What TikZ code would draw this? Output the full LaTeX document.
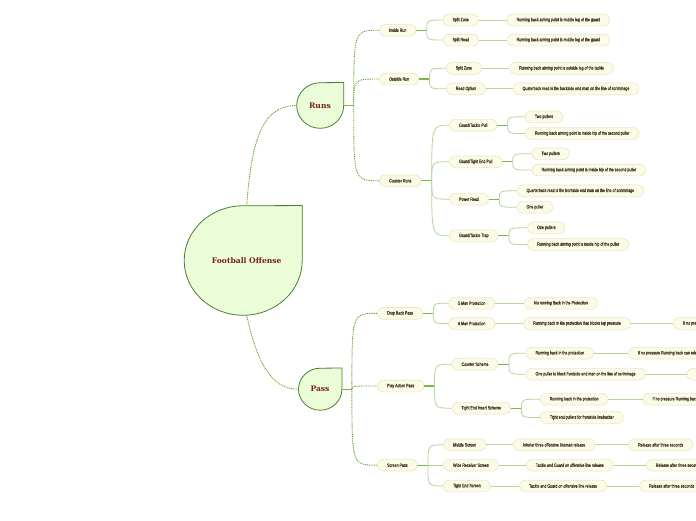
\documentclass[tikz,border=0pt]{standalone}
\usepackage{fontspec}
\usetikzlibrary{backgrounds}
\newfontfamily\leaffont[FakeStretch=0.75,FakeBold=0.6]{Liberation Sans}
\newfontfamily\topicfont{DejaVu Serif}
\definecolor{leaffill}{HTML}{FBFCE8}
\definecolor{leafedge}{HTML}{EDE8C4}
\definecolor{leaftext}{HTML}{46382C}
\definecolor{topicfill}{HTML}{EAFDD8}
\definecolor{topicedge}{HTML}{4E7D2E}
\definecolor{topictext}{HTML}{7A1E1E}
\definecolor{dotgreen}{HTML}{5E9E28}
\definecolor{stemgreen}{HTML}{7BB64C}
\definecolor{twiggreen}{HTML}{B3D69B}

\begin{document}
\begin{tikzpicture}[x=1pt,y=-1pt,
  leaf/.style={draw=leafedge,fill=leaffill,line width=0.7pt,rounded corners=5.8pt,
    minimum height=11.7pt,inner xsep=9.5pt,inner ysep=1pt,anchor=west,
    text=leaftext,font=\leaffont\fontsize{4.8}{5}\selectfont},
  topic/.style={inner sep=0pt,text=topictext,font=\topicfont\bfseries\fontsize{7.6}{9}\selectfont},
  drop/.style={draw=topicedge,fill=topicfill,line width=0.8pt},
  dots/.style={dotgreen,line width=0.9pt,dash pattern=on 0.9pt off 0.9pt},
  stem/.style={stemgreen,line width=1.3pt},
  twig/.style={twiggreen,line width=0.8pt},
  branchcurve/.style={to path={.. controls (\tikztostart |- \tikztotarget) .. (\tikztotarget)}}]
  \useasboundingbox (0,0) rectangle (696,520);
  \clip (0,0) rectangle (696,520);

  \node[topic,minimum width=118pt,minimum height=109.5pt] (root) at (246.7,260.5) {Football Offense};
  \node[topic,minimum width=47pt,minimum height=45.6pt] (runs) at (320,105.5) {Runs};
  \node[topic,minimum width=43.4pt,minimum height=42pt] (pass) at (320,389.2) {Pass};
  \begin{scope}[on background layer]
    \fill[white] (0,0) rectangle (696,520);
    \draw[drop] ([xshift=-3.7pt]root.north east) -- ([xshift=-3.7pt]root.east) arc[start angle=0,end angle=270,x radius=59,y radius=54.75] -- cycle;
    \draw[drop] (runs.north east) -- (runs.east) arc[start angle=0,end angle=270,x radius=23.5,y radius=22.8] -- cycle;
    \draw[drop] (pass.north east) -- (pass.east) arc[start angle=0,end angle=270,x radius=21.7,y radius=21] -- cycle;
  \end{scope}

  \node[leaf] (inside) at (379.3,30.2) {Inside Run};
  \node[leaf] (outside) at (379.3,79) {Outside Run};
  \node[leaf] (counter) at (379.3,180.8) {Counter Runs};
  \node[leaf] (szone) at (442.7,20) {Split Zone};
  \node[leaf] (sread) at (442.7,40) {Split Read};
  \node[leaf] (szonept) at (506.7,20) {Running back aiming point is middle leg of the guard};
  \node[leaf] (sreadpt) at (506.7,40) {Running back aiming point is middle leg of the guard};
  \node[leaf] (ozone) at (446,68.3) {Split Zone};
  \node[leaf] (ropt) at (446,88.8) {Read Option};
  \node[leaf] (ozonept) at (509.3,68.3) {Running back aiming point is outside leg of the tackle};
  \node[leaf] (roptqb) at (512.7,88.8) {Quaterback read is the backside end man on the line of scrimmage};
  \node[leaf] (gtpull) at (449.3,125.2) {Guard/Tackle Pull};
  \node[leaf] (gtpulltwo) at (525,116.8) {Two pullers};
  \node[leaf] (gtpullrb) at (525,133.5) {Running back aiming point is inside hip of the second puller};
  \node[leaf] (gtepull) at (449.3,161.8) {Guard/Tight End Pull};
  \node[leaf] (gtepulltwo) at (531.7,153.8) {Two pullers};
  \node[leaf] (gtepullrb) at (531.7,170) {Running back aiming point is inside hip of the second puller};
  \node[leaf] (pread) at (449.3,199.2) {Power Read};
  \node[leaf] (preadqb) at (516.7,190.8) {Quarterback read is the frontside end man on the line of scrimmage};
  \node[leaf] (preadone) at (516.7,207.2) {One puller};
  \node[leaf] (gttrap) at (449.3,235.8) {Guard/Tackle Trap};
  \node[leaf] (gttrapone) at (527.3,227.8) {One pullers};
  \node[leaf] (gttraprb) at (527.3,244.5) {Running back aiming point is inside hip of the puller};

  \node[leaf] (dropback) at (377.3,313.3) {Drop Back Pass};
  \node[leaf] (playaction) at (377.3,386) {Play Action Pass};
  \node[leaf] (screen) at (377.3,465.2) {Screen Pass};
  \node[leaf] (fiveman) at (448.3,303.2) {5 Man Protection};
  \node[leaf] (sixman) at (448.3,323.5) {6 Man Protection};
  \node[leaf] (fivemanrb) at (524.3,303.2) {No running Back in the Protection};
  \node[leaf] (sixmanrb) at (523.3,323.5) {Running back in the protection that blocks top pressure};
  \node[leaf] (sixmanrel) at (673.3,323.5) {If no pressure Running back can release};
  \node[leaf] (ctr) at (451.7,364.2) {Counter Scheme};
  \node[leaf] (ctrrb) at (525.7,353.2) {Running back in the protection};
  \node[leaf] (ctrrbrel) at (628.3,353.2) {If no pressure Running back can release};
  \node[leaf] (ctrpull) at (525.7,374.2) {One puller to block frontside end man on the line of scrimmage};
  \node[leaf] (ctrpullrel) at (686.7,374.2) {Running back release};
  \node[leaf] (tei) at (451.7,408.2) {Tight End Insert Scheme};
  \node[leaf] (teirb) at (540,399.2) {Running back in the protection};
  \node[leaf] (teirbrel) at (642.7,399.2) {If no pressure Running back can release};
  \node[leaf] (teipull) at (540,417.5) {Tight end pullers for frontside linebacker};
  \node[leaf] (midscr) at (443.3,444.8) {Middle Screen};
  \node[leaf] (midscrol) at (513.3,444.8) {Interior three offensive lineman release};
  \node[leaf] (midscrrel) at (628.3,444.8) {Release after three seconds};
  \node[leaf] (wrscr) at (443.3,465.2) {Wide Receiver Screen};
  \node[leaf] (wrscrol) at (526,465.2) {Tackle and Guard on offensive line release};
  \node[leaf] (wrscrrel) at (646,465.2) {Release after three seconds};
  \node[leaf] (tescr) at (443.3,486) {Tight End Screen};
  \node[leaf] (tescrol) at (519.3,486) {Tackle and Guard on offensive line release};
  \node[leaf] (tescrrel) at (639.3,486) {Release after three seconds};

  \draw[dots] (root.north) .. controls +(5,-66) and +(-34,0) .. (runs.west);
  \draw[dots] (root.south) .. controls +(10,45) and +(-28,0) .. (pass.west);

  \coordinate (runshub) at ([xshift=10pt]runs.east);
  \draw[stem] (runs.east) -- (runshub);
  \draw[dots] (runshub) to[branchcurve] (inside.west);
  \draw[dots] (runshub) to[branchcurve] (outside.west);
  \draw[dots] (runshub) to[branchcurve] (counter.west);
  \coordinate (passhub) at ([xshift=10pt]pass.east);
  \draw[stem] (pass.east) -- (passhub);
  \draw[dots] (passhub) to[branchcurve] (dropback.west);
  \draw[dots] (passhub) to[branchcurve] (playaction.west);
  \draw[dots] (passhub) to[branchcurve] (screen.west);

  \coordinate (insidehub) at ([xshift=10.5pt]inside.east);
  \draw[stem] (inside.east) -- (insidehub);
  \draw[twig] (insidehub) to[branchcurve] (szone.west);
  \draw[twig] (insidehub) to[branchcurve] (sread.west);
  \draw[twig] (szone.east) -- (szonept.west);
  \draw[twig] (sread.east) -- (sreadpt.west);
  \coordinate (outsidehub) at ([xshift=10.5pt]outside.east);
  \draw[stem] (outside.east) -- (outsidehub);
  \draw[twig] (outsidehub) to[branchcurve] (ozone.west);
  \draw[twig] (outsidehub) to[branchcurve] (ropt.west);
  \draw[twig] (ozone.east) -- (ozonept.west);
  \draw[twig] (ropt.east) -- (roptqb.west);
  \coordinate (counterhub) at ([xshift=10.5pt]counter.east);
  \draw[stem] (counter.east) -- (counterhub);
  \draw[twig] (counterhub) to[branchcurve] (gtpull.west);
  \draw[twig] (counterhub) to[branchcurve] (gtepull.west);
  \draw[twig] (counterhub) to[branchcurve] (pread.west);
  \draw[twig] (counterhub) to[branchcurve] (gttrap.west);
  \coordinate (gtpullhub) at ([xshift=10.5pt]gtpull.east);
  \draw[stem] (gtpull.east) -- (gtpullhub);
  \draw[twig] (gtpullhub) to[branchcurve] (gtpulltwo.west);
  \draw[twig] (gtpullhub) to[branchcurve] (gtpullrb.west);
  \coordinate (gtepullhub) at ([xshift=10.5pt]gtepull.east);
  \draw[stem] (gtepull.east) -- (gtepullhub);
  \draw[twig] (gtepullhub) to[branchcurve] (gtepulltwo.west);
  \draw[twig] (gtepullhub) to[branchcurve] (gtepullrb.west);
  \coordinate (preadhub) at ([xshift=10.5pt]pread.east);
  \draw[stem] (pread.east) -- (preadhub);
  \draw[twig] (preadhub) to[branchcurve] (preadqb.west);
  \draw[twig] (preadhub) to[branchcurve] (preadone.west);
  \coordinate (gttraphub) at ([xshift=10.5pt]gttrap.east);
  \draw[stem] (gttrap.east) -- (gttraphub);
  \draw[twig] (gttraphub) to[branchcurve] (gttrapone.west);
  \draw[twig] (gttraphub) to[branchcurve] (gttraprb.west);

  \coordinate (dropbackhub) at ([xshift=10.5pt]dropback.east);
  \draw[stem] (dropback.east) -- (dropbackhub);
  \draw[twig] (dropbackhub) to[branchcurve] (fiveman.west);
  \draw[twig] (dropbackhub) to[branchcurve] (sixman.west);
  \draw[twig] (fiveman.east) -- (fivemanrb.west);
  \draw[twig] (sixman.east) -- (sixmanrb.west);
  \draw[twig] (sixmanrb.east) -- (sixmanrel.west);
  \coordinate (playactionhub) at ([xshift=10.5pt]playaction.east);
  \draw[stem] (playaction.east) -- (playactionhub);
  \draw[twig] (playactionhub) to[branchcurve] (ctr.west);
  \draw[twig] (playactionhub) to[branchcurve] (tei.west);
  \coordinate (ctrhub) at ([xshift=10.5pt]ctr.east);
  \draw[stem] (ctr.east) -- (ctrhub);
  \draw[twig] (ctrhub) to[branchcurve] (ctrrb.west);
  \draw[twig] (ctrhub) to[branchcurve] (ctrpull.west);
  \draw[twig] (ctrrb.east) -- (ctrrbrel.west);
  \draw[twig] (ctrpull.east) -- (ctrpullrel.west);
  \coordinate (teihub) at ([xshift=10.5pt]tei.east);
  \draw[stem] (tei.east) -- (teihub);
  \draw[twig] (teihub) to[branchcurve] (teirb.west);
  \draw[twig] (teihub) to[branchcurve] (teipull.west);
  \draw[twig] (teirb.east) -- (teirbrel.west);
  \coordinate (screenhub) at ([xshift=10.5pt]screen.east);
  \draw[stem] (screen.east) -- (screenhub);
  \draw[twig] (screenhub) to[branchcurve] (midscr.west);
  \draw[twig] (screenhub) to[branchcurve] (wrscr.west);
  \draw[twig] (screenhub) to[branchcurve] (tescr.west);
  \draw[twig] (midscr.east) -- (midscrol.west);
  \draw[twig] (midscrol.east) -- (midscrrel.west);
  \draw[twig] (wrscr.east) -- (wrscrol.west);
  \draw[twig] (wrscrol.east) -- (wrscrrel.west);
  \draw[twig] (tescr.east) -- (tescrol.west);
  \draw[twig] (tescrol.east) -- (tescrrel.west);
\end{tikzpicture}
\end{document}
